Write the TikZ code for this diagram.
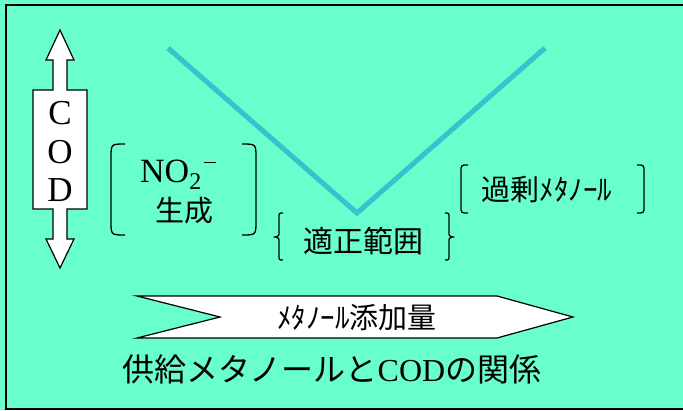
\documentclass[tikz,border=0pt]{standalone}
\usepackage{fontspec}
\setmainfont{Liberation Serif}
\newfontfamily\cjk{Noto Sans CJK JP}
\definecolor{bgc}{RGB}{104,255,204}
\definecolor{vline}{RGB}{51,196,206}
\begin{document}
\begin{tikzpicture}[x=1pt,y=-1pt,
  brk/.style={line width=1.3pt,black},
  lbl/.style={inner sep=0pt,anchor=center}]
\useasboundingbox (0,0) rectangle (683,410);
\fill[bgc] (0,0) rectangle (683,410);
\draw[line width=1.6pt] (690,5) -- (6,5) -- (6,409) -- (690,409);
% COD double arrow
\draw[line width=1.2pt,fill=white] (60,30) -- (74,60) -- (67,60) -- (67,90) -- (87,90) -- (87,209)
  -- (67,209) -- (67,239) -- (74,239) -- (60,268) -- (46,239) -- (53,239) -- (53,209) -- (33,209)
  -- (33,90) -- (53,90) -- (53,60) -- (46,60) -- cycle;
\node[lbl,font=\fontsize{35}{35}\selectfont] (c) at (60,113) {C};
\node[lbl,font=\fontsize{35}{35}\selectfont] (o) at (60,152) {O};
\node[lbl,font=\fontsize{35}{35}\selectfont] (d) at (60,190) {D};
% V line
\coordinate (va) at (168,48);
\coordinate (vb) at (357,213);
\coordinate (vc) at (545,48);
\draw[vline,line width=5pt] (va) -- (vb) -- (vc);
% NO2 label
\node[lbl,font=\fontsize{34}{34}\selectfont,anchor=base west] (no2) at (140,182) {NO\raisebox{-0.22em}{\fontsize{24}{24}\selectfont 2}\hspace{3pt}\rule[19pt]{12pt}{1.3pt}};
\node[lbl,font=\cjk\fontsize{29}{29}\selectfont] (sei) at (184,211) {生成};
\draw[brk] (125,144) .. controls (111,144) .. (111,158) -- (111,221) .. controls (111,235) .. (125,235);
\draw[brk] (242,144) .. controls (256,144) .. (256,158) -- (256,221) .. controls (256,235) .. (242,235);
% tekisei
\node[lbl,font=\cjk\fontsize{30}{30}\selectfont] (tek) at (363,241) {適正範囲};
\draw[brk] (283,213) .. controls (279,213) .. (279,218) -- (279,232) .. controls (279,236) .. (275,237)
  .. controls (279,238) .. (279,242) -- (279,255) .. controls (279,260) .. (283,260);
\draw[brk] (445,213) .. controls (449,213) .. (449,218) -- (449,232) .. controls (449,236) .. (453,237)
  .. controls (449,238) .. (449,242) -- (449,255) .. controls (449,260) .. (445,260);
% kajou
\node[lbl,font=\cjk\fontsize{29}{29}\selectfont] (kaj) at (547,189) {過剰ﾒﾀﾉｰﾙ};
\draw[brk] (468,165) .. controls (461,165) .. (461,172) -- (461,206) .. controls (461,213) .. (468,213);
\draw[brk] (637,165) .. controls (644,165) .. (644,172) -- (644,206) .. controls (644,213) .. (637,213);
% banner arrow
\draw[line width=1.2pt,fill=white] (137,296) -- (497,296) -- (573,317) -- (497,338) -- (137,338) -- (220,317) -- cycle;
\node[lbl,font=\cjk\fontsize{29}{29}\selectfont] (ban) at (357,318) {ﾒﾀﾉｰﾙ添加量};
% caption
\node[lbl,font=\fontsize{32}{32}\selectfont] (cap) at (332,369) {{\cjk 供給メタノールと}COD{\cjk の関係}};
\end{tikzpicture}
\end{document}
